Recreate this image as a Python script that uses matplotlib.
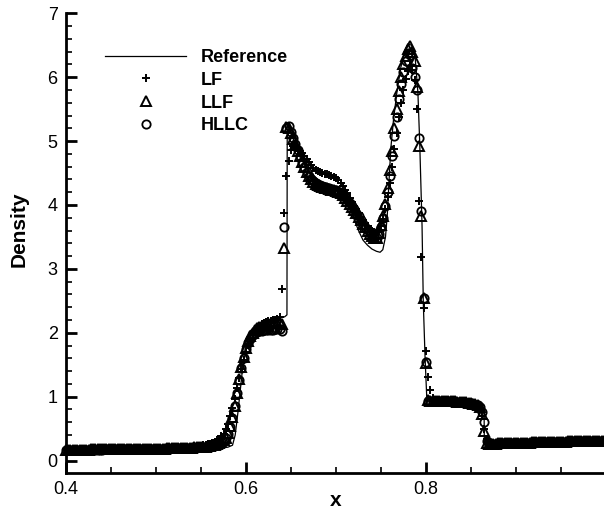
import numpy as np
import matplotlib
matplotlib.use("Agg")
import matplotlib.pyplot as plt
from matplotlib.ticker import MultipleLocator, FixedLocator

plt.rcParams['font.family'] = ['Liberation Sans', 'DejaVu Sans']

# Cell centres of the mesh (dx = 0.0025) over the plotted window
x_cells = np.linspace(0.4, 1.0, 241)

# Reference (fine-mesh) solution
ref_x = [0.400, 0.450, 0.500, 0.550, 0.570, 0.580, 0.585, 0.588, 0.591, 0.594,
         0.597, 0.600, 0.604, 0.610, 0.616, 0.625, 0.635, 0.643, 0.6455, 0.6458,
         0.647, 0.652, 0.660, 0.670, 0.680, 0.690, 0.700, 0.705, 0.710, 0.715,
         0.720, 0.725, 0.730, 0.735, 0.740, 0.745, 0.749, 0.752, 0.755, 0.757,
         0.759, 0.761, 0.764, 0.768, 0.772, 0.776, 0.780, 0.784, 0.788, 0.791,
         0.793, 0.7956, 0.797, 0.799, 0.8008, 0.802, 0.820, 0.840, 0.855, 0.862,
         0.8645, 0.8648, 0.900, 0.950, 1.000]
ref_rho = [0.180, 0.181, 0.184, 0.190, 0.198, 0.210, 0.240, 0.400, 0.750, 1.150,
           1.550, 1.850, 2.020, 2.100, 2.160, 2.200, 2.230, 2.250, 2.280, 5.100,
           5.280, 5.050, 4.750, 4.520, 4.400, 4.330, 4.270, 4.210, 4.120, 3.980,
           3.780, 3.600, 3.450, 3.370, 3.310, 3.275, 3.260, 3.300, 3.500, 3.850,
           4.400, 4.900, 5.350, 5.800, 6.150, 6.400, 6.520, 6.500, 6.300, 5.760,
           4.980, 3.680, 2.470, 1.600, 1.000, 0.930, 0.930, 0.920, 0.890, 0.870,
           0.860, 0.270, 0.280, 0.292, 0.310]

# Lax-Friedrichs
rho_lf = [
    0.174, 0.174, 0.175, 0.175, 0.175, 0.176, 0.176, 0.176, 0.177, 0.177,
    0.177, 0.178, 0.178, 0.178, 0.179, 0.179, 0.179, 0.180, 0.180, 0.180,
    0.181, 0.181, 0.181, 0.182, 0.182, 0.182, 0.183, 0.183, 0.183, 0.184,
    0.184, 0.185, 0.185, 0.186, 0.186, 0.187, 0.187, 0.188, 0.188, 0.189,
    0.190, 0.191, 0.192, 0.193, 0.194, 0.195, 0.196, 0.197, 0.199, 0.200,
    0.202, 0.204, 0.206, 0.208, 0.210, 0.213, 0.216, 0.219, 0.223, 0.227,
    0.232, 0.238, 0.245, 0.254, 0.265, 0.279, 0.296, 0.318, 0.345, 0.378,
    0.42, 0.49, 0.58, 0.69, 0.82, 0.97, 1.13, 1.29, 1.44, 1.58,
    1.70, 1.81, 1.90, 1.97, 2.03, 2.07, 2.10, 2.13, 2.15, 2.17,
    2.18, 2.19, 2.20, 2.20, 2.21, 2.25, 2.69, 3.88, 4.46, 4.69,
    4.86, 4.92, 4.91, 4.88, 4.85, 4.81, 4.77, 4.72, 4.67, 4.62,
    4.58, 4.55, 4.53, 4.51, 4.50, 4.49, 4.48, 4.47, 4.46, 4.44,
    4.42, 4.39, 4.35, 4.30, 4.24, 4.18, 4.11, 4.05, 3.99, 3.93,
    3.87, 3.81, 3.76, 3.71, 3.67, 3.63, 3.60, 3.58, 3.58, 3.61,
    3.67, 3.78, 3.93, 4.12, 4.35, 4.60, 4.87, 5.13, 5.38, 5.60,
    5.80, 5.97, 6.10, 6.17, 6.12, 5.95, 5.50, 4.07, 3.18, 2.38,
    1.72, 1.30, 1.10, 0.98, 0.95, 0.94, 0.94, 0.94, 0.935, 0.935,
    0.934, 0.933, 0.932, 0.930, 0.928, 0.925, 0.921, 0.916, 0.910, 0.903,
    0.894, 0.883, 0.869, 0.851, 0.820, 0.700, 0.500, 0.330, 0.275, 0.268,
    0.268, 0.269, 0.270, 0.271, 0.272, 0.273, 0.274, 0.275, 0.276, 0.277,
    0.278, 0.279, 0.280, 0.281, 0.282, 0.283, 0.284, 0.285, 0.286, 0.287,
    0.288, 0.289, 0.290, 0.291, 0.292, 0.293, 0.294, 0.295, 0.296, 0.297,
    0.298, 0.299, 0.300, 0.301, 0.302, 0.303, 0.304, 0.305, 0.306, 0.307,
    0.307, 0.308, 0.308, 0.309, 0.309, 0.310, 0.310, 0.311, 0.311, 0.312, 0.312,
]

# Local Lax-Friedrichs
rho_llf = [
    0.170, 0.170, 0.171, 0.171, 0.171, 0.172, 0.172, 0.172, 0.173, 0.173,
    0.173, 0.174, 0.174, 0.174, 0.175, 0.175, 0.175, 0.176, 0.176, 0.176,
    0.177, 0.177, 0.177, 0.178, 0.178, 0.178, 0.179, 0.179, 0.179, 0.180,
    0.180, 0.181, 0.181, 0.182, 0.182, 0.183, 0.183, 0.184, 0.184, 0.185,
    0.185, 0.186, 0.187, 0.187, 0.188, 0.189, 0.190, 0.191, 0.192, 0.193,
    0.194, 0.195, 0.196, 0.198, 0.199, 0.201, 0.203, 0.205, 0.207, 0.210,
    0.213, 0.216, 0.220, 0.225, 0.231, 0.238, 0.247, 0.258, 0.272, 0.290,
    0.32, 0.36, 0.43, 0.54, 0.68, 0.86, 1.06, 1.27, 1.46, 1.62,
    1.76, 1.87, 1.95, 2.00, 2.04, 2.07, 2.09, 2.11, 2.12, 2.13,
    2.14, 2.15, 2.15, 2.16, 2.16, 2.16, 2.14, 3.33, 5.22, 5.20,
    5.12, 5.03, 4.94, 4.85, 4.76, 4.67, 4.59, 4.51, 4.45, 4.40,
    4.36, 4.33, 4.31, 4.29, 4.28, 4.27, 4.26, 4.25, 4.24, 4.23,
    4.22, 4.20, 4.18, 4.15, 4.11, 4.07, 4.02, 3.97, 3.92, 3.87,
    3.81, 3.76, 3.70, 3.65, 3.60, 3.55, 3.51, 3.48, 3.49, 3.56,
    3.68, 3.82, 4.02, 4.26, 4.54, 4.85, 5.20, 5.50, 5.78, 6.00,
    6.20, 6.33, 6.44, 6.49, 6.40, 6.26, 5.85, 4.93, 3.83, 2.54,
    1.52, 0.940, 0.935, 0.934, 0.934, 0.933, 0.933, 0.932, 0.932, 0.931,
    0.930, 0.929, 0.928, 0.926, 0.924, 0.921, 0.918, 0.914, 0.909, 0.903,
    0.896, 0.888, 0.878, 0.865, 0.840, 0.730, 0.470, 0.280, 0.266, 0.265,
    0.266, 0.267, 0.268, 0.269, 0.270, 0.271, 0.272, 0.273, 0.274, 0.275,
    0.276, 0.277, 0.278, 0.279, 0.280, 0.281, 0.282, 0.283, 0.284, 0.285,
    0.286, 0.287, 0.288, 0.289, 0.290, 0.291, 0.292, 0.293, 0.294, 0.295,
    0.296, 0.297, 0.298, 0.299, 0.300, 0.301, 0.302, 0.303, 0.304, 0.305,
    0.305, 0.306, 0.306, 0.307, 0.307, 0.308, 0.308, 0.309, 0.309, 0.310, 0.310,
]

# HLLC
rho_hllc = [
    0.168, 0.168, 0.169, 0.169, 0.169, 0.170, 0.170, 0.170, 0.171, 0.171,
    0.171, 0.172, 0.172, 0.172, 0.173, 0.173, 0.173, 0.174, 0.174, 0.174,
    0.175, 0.175, 0.175, 0.176, 0.176, 0.176, 0.177, 0.177, 0.177, 0.178,
    0.178, 0.179, 0.179, 0.180, 0.180, 0.181, 0.181, 0.182, 0.182, 0.183,
    0.183, 0.184, 0.185, 0.185, 0.186, 0.187, 0.188, 0.189, 0.190, 0.191,
    0.192, 0.193, 0.194, 0.196, 0.197, 0.199, 0.201, 0.203, 0.205, 0.208,
    0.211, 0.214, 0.218, 0.223, 0.229, 0.236, 0.245, 0.256, 0.270, 0.288,
    0.31, 0.35, 0.42, 0.53, 0.67, 0.85, 1.05, 1.26, 1.45, 1.61,
    1.74, 1.84, 1.91, 1.96, 1.99, 2.01, 2.02, 2.03, 2.04, 2.04,
    2.05, 2.05, 2.05, 2.06, 2.06, 2.06, 2.03, 3.65, 5.20, 5.24,
    5.15, 5.05, 4.95, 4.86, 4.77, 4.68, 4.60, 4.52, 4.46, 4.41,
    4.37, 4.34, 4.32, 4.30, 4.29, 4.28, 4.27, 4.26, 4.25, 4.24,
    4.23, 4.21, 4.19, 4.16, 4.12, 4.08, 4.03, 3.98, 3.93, 3.88,
    3.82, 3.77, 3.71, 3.66, 3.61, 3.56, 3.52, 3.49, 3.49, 3.55,
    3.66, 3.80, 3.98, 4.20, 4.46, 4.76, 5.08, 5.38, 5.66, 5.90,
    6.08, 6.25, 6.38, 6.35, 6.15, 6.00, 5.80, 5.05, 3.90, 2.55,
    1.55, 0.930, 0.930, 0.932, 0.932, 0.931, 0.931, 0.930, 0.930, 0.929,
    0.928, 0.927, 0.926, 0.924, 0.922, 0.919, 0.916, 0.912, 0.907, 0.901,
    0.894, 0.886, 0.876, 0.863, 0.840, 0.760, 0.600, 0.300, 0.268, 0.266,
    0.265, 0.266, 0.267, 0.268, 0.269, 0.270, 0.271, 0.272, 0.273, 0.274,
    0.275, 0.276, 0.277, 0.278, 0.279, 0.280, 0.281, 0.282, 0.283, 0.284,
    0.285, 0.286, 0.287, 0.288, 0.289, 0.290, 0.291, 0.292, 0.293, 0.294,
    0.295, 0.296, 0.297, 0.298, 0.299, 0.300, 0.301, 0.302, 0.303, 0.304,
    0.304, 0.305, 0.305, 0.306, 0.306, 0.307, 0.307, 0.308, 0.308, 0.309, 0.309,
]

W, H = 604, 517
fig = plt.figure(figsize=(W / 100, H / 100), dpi=100)
ax = fig.add_axes([66 / W, (H - 472.7) / H, 540 / W, (472.7 - 13.3) / H])

ax.plot(ref_x, ref_rho, color='black', lw=0.9, label='Reference', zorder=2)
ax.plot(x_cells, rho_lf, ls='none', marker='+', ms=6, mew=1.4, color='black',
        label='LF', clip_on=False, zorder=3)
ax.plot(x_cells, rho_llf, ls='none', marker='^', ms=7.5, mew=1.4, mfc='none',
        mec='black', label='LLF', clip_on=False, zorder=3)
ax.plot(x_cells, rho_hllc, ls='none', marker='o', ms=6, mew=1.3, mfc='none',
        mec='black', label='HLLC', clip_on=False, zorder=3)

ax.set_xlim(0.4, 1.0)
ax.set_ylim(-0.19, 7)

for side in ('top', 'right'):
    ax.spines[side].set_visible(False)
for side in ('left', 'bottom'):
    ax.spines[side].set_linewidth(2)

ax.xaxis.set_major_locator(FixedLocator([0.4, 0.6, 0.8]))
ax.xaxis.set_minor_locator(MultipleLocator(0.05))
ax.yaxis.set_major_locator(MultipleLocator(1))
ax.yaxis.set_minor_locator(MultipleLocator(0.2))
ax.xaxis.set_major_formatter(plt.FuncFormatter(lambda v, p: f'{v:g}'))
ax.yaxis.set_major_formatter(plt.FuncFormatter(lambda v, p: f'{v:g}'))
ax.tick_params(which='major', direction='in', length=8, width=2,
               labelsize=13, pad=6, top=False, right=False)
ax.tick_params(which='minor', direction='in', length=4.5, width=1.2,
               top=False, right=False)

fig.text(19 / W, 1 - 229 / H, 'Density', rotation=90, ha='center', va='center',
         fontsize=15, fontweight='bold')
fig.text(336 / W, 1 - 501 / H, 'x', ha='center', va='center',
         fontsize=15, fontweight='bold')

leg = ax.legend(loc='upper left', bbox_to_anchor=(105 / W, 1 - 49 / H),
                bbox_transform=fig.transFigure, frameon=False, borderpad=0,
                borderaxespad=0, handlelength=4.5, handletextpad=0.78,
                labelspacing=0.32, numpoints=1,
                prop={'weight': 'bold', 'size': 13})

fig.savefig('out.png', dpi=100)
